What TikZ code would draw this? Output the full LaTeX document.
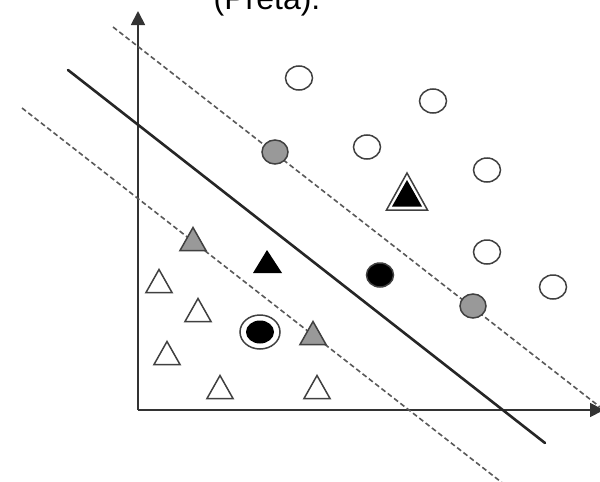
\documentclass[tikz,border=0pt]{standalone}
\usepackage{fontspec}
\setmainfont{Liberation Sans}
\usetikzlibrary{arrows.meta}
\begin{document}
\begin{tikzpicture}[x=1pt,y=-1pt,
  axisline/.style={line width=1.8pt, draw=black!80, -{Triangle[length=14pt,width=14pt]}},
  sepline/.style={line width=2.6pt, draw=black!85, line cap=round},
  marginline/.style={line width=1.6pt, draw=black!65, dash pattern=on 5pt off 3pt},
  mk/.style={line width=1.5pt, draw=black!75},
  pics/tri/.style={code={\draw[mk,#1] (-13,11.5)--(0,-11.5)--(13,11.5)--cycle;}},
]
\useasboundingbox (0,0) rectangle (600,482);
\fill[white] (0,0) rectangle (600,482);
% caption (cut at the top, as in the reference)
\node[font=\fontsize{32}{38}\selectfont, anchor=base, inner sep=0pt] (cap) at (267,9) {(Preta).};
% axes
\coordinate (O) at (138,410);
\coordinate (ytip) at (138,11);
\coordinate (xtip) at (604,410);
\draw[axisline] (O) -- (ytip);
\draw[axisline] (O) -- (xtip);
% margins and separator
\coordinate (u1) at (113,27);
\coordinate (u2) at (600,407);
\coordinate (l1) at (22,108);
\coordinate (l2) at (505,485);
\coordinate (s1) at (68,70);
\coordinate (s2) at (545,443);
\draw[marginline] (u1) -- (u2);
\draw[marginline] (l1) -- (l2);
\draw[sepline] (s1) -- (s2);
% open circles
\foreach \p in {(299,78),(433,101),(367,147),(487,170),(487,252),(553,287)}
  \draw[mk, fill=white] \p ellipse [x radius=13.5, y radius=12];
% gray circles (support vectors)
\foreach \p in {(275,152),(473,306)}
  \draw[mk, fill=black!40] \p ellipse [x radius=13, y radius=12];
% black circle
\draw[mk, fill=black] (380,275) ellipse [x radius=13.5, y radius=12];
% double-ringed black circle
\draw[mk, fill=white] (260,332) ellipse [x radius=20, y radius=17];
\fill[black] (260,332) ellipse [x radius=14, y radius=11.5];
% double-outlined black triangle
\draw[mk, fill=white] (386.5,210)--(407,173)--(427.5,210)--cycle;
\fill[black] (392,206.5)--(407,180)--(422,206.5)--cycle;
% black triangle
\fill[black] (253,273)--(267,250)--(282,273)--cycle;
% gray triangles
\pic at (193,239) {tri={fill=black!40}};
\pic at (313,333) {tri={fill=black!40}};
% open triangles
\foreach \p in {(159,281),(198,310),(167,353),(220,387),(317,387)}
  \pic at \p {tri={fill=white}};
\end{tikzpicture}
\end{document}
